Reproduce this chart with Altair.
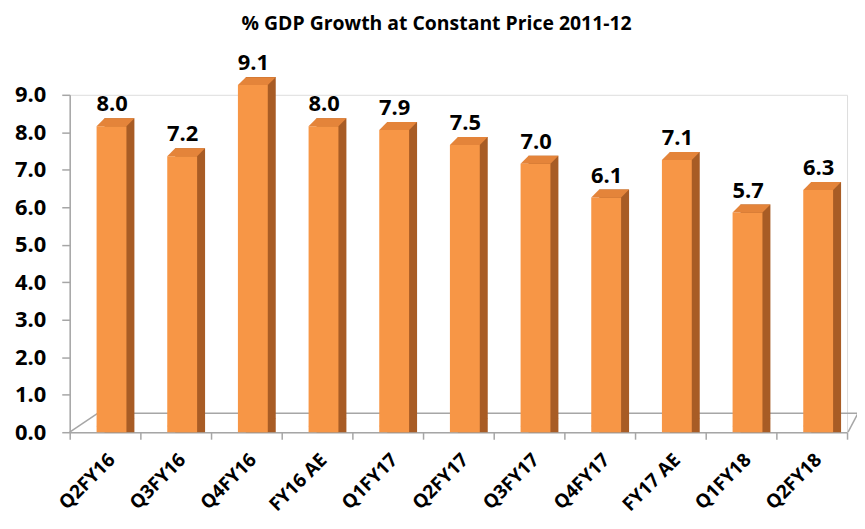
import altair as alt
import pandas as pd

categories = ["Q2FY16", "Q3FY16", "Q4FY16", "FY16 AE", "Q1FY17", "Q2FY17",
              "Q3FY17", "Q4FY17", "FY17 AE", "Q1FY18", "Q2FY18"]
growth = [8.0, 7.2, 9.1, 8.0, 7.9, 7.5, 7.0, 6.1, 7.1, 5.7, 6.3]
y_ticks = [0, 1, 2, 3, 4, 5, 6, 7, 8, 9]

df = pd.DataFrame({"period": categories, "growth": growth, "base": [0.0] * len(growth)})

FONT = "Open Sans"
FRONT = "#F79646"
SIDE = "#A85C25"
TOP = "#E4843A"
GRAY = "#A6A6A6"

W, H = 781, 339

x_axis = alt.Axis(title=None, labelAngle=-45, labelFont=FONT, labelFontSize=19,
                  labelFontWeight="bold", labelColor="black", labelPadding=11,
                  labelOverlap=False,
                  tickBand="extent", tickSize=7, tickColor=GRAY, domainColor=GRAY,
                  domainWidth=1.5, tickWidth=1.5)
y_axis = alt.Axis(title=None, values=y_ticks, format=".1f", grid=False,
                  labelOverlap=False,
                  labelFont=FONT, labelFontSize=22, labelFontWeight="bold",
                  labelColor="black", labelPadding=16, tickSize=8, tickColor=GRAY,
                  domainColor=GRAY, domainWidth=1.5, tickWidth=1.5)
x_scale = alt.Scale(paddingInner=0, paddingOuter=0)
y_scale = alt.Scale(domain=[0, 9], nice=False)

x_enc = alt.X("period:N", sort=categories, scale=x_scale, axis=x_axis)
y_val = alt.Y("growth:Q", scale=y_scale, axis=y_axis)
y_base = alt.Y("base:Q", scale=y_scale, axis=y_axis)

base = alt.Chart(df)

side = base.mark_bar(color=SIDE, size=30, xOffset=14.5, yOffset=-14).encode(
    x=x_enc, y=y_val, y2=alt.Y2("base:Q"))

cap_path = "M -1 0.21 L 0.58 0.21 L 1 -0.21 L -0.58 -0.21 Z"

bottom_cap = base.mark_point(shape=cap_path, size=1444, filled=True, opacity=1,
                             color=SIDE, strokeWidth=0, xOffset=10.5, yOffset=-10).encode(
    x=x_enc, y=y_base)

front = base.mark_bar(color=FRONT, size=30, xOffset=6.5, yOffset=-6).encode(
    x=x_enc, y=y_val, y2=alt.Y2("base:Q"))

top_cap = base.mark_point(shape=cap_path, size=1444, filled=True, opacity=1,
                          color=TOP, strokeWidth=0, xOffset=10.5, yOffset=-10).encode(
    x=x_enc, y=y_val)

labels = base.mark_text(font=FONT, fontSize=22, fontWeight="bold", color="black",
                        xOffset=7, yOffset=-28, baseline="middle").encode(
    x=x_enc, y=y_val, text=alt.Text("growth:Q", format=".1f"))

one = alt.Data(values=[{"k": 1}])
floor_back = alt.Chart(one).mark_rule(color=GRAY, strokeWidth=1.5).encode(
    x=alt.value(28), x2=alt.value(792), y=alt.value(320), y2=alt.value(320))
floor_left = alt.Chart(one).mark_rule(color=GRAY, strokeWidth=1.5).encode(
    x=alt.value(0), x2=alt.value(28), y=alt.value(339), y2=alt.value(320))
floor_right = alt.Chart(one).mark_rule(color=GRAY, strokeWidth=1.5).encode(
    x=alt.value(782), x2=alt.value(792), y=alt.value(339), y2=alt.value(320))

chart = alt.layer(floor_back, floor_left, floor_right, side, bottom_cap, front, top_cap, labels).properties(
    width=W, height=H,
    title=alt.TitleParams("% GDP Growth at Constant Price 2011-12", font=FONT, fontSize=19.5,
                          fontWeight="bold", color="black", offset=18, anchor="middle",
                          frame="bounds"),
    autosize=alt.AutoSizeParams(type="none"),
    padding={"left": 62, "top": 86, "right": 10, "bottom": 90},
).configure_view(stroke=None).configure(background="white")

chart.save("out.html", embed_options={"renderer": "svg", "actions": False})
